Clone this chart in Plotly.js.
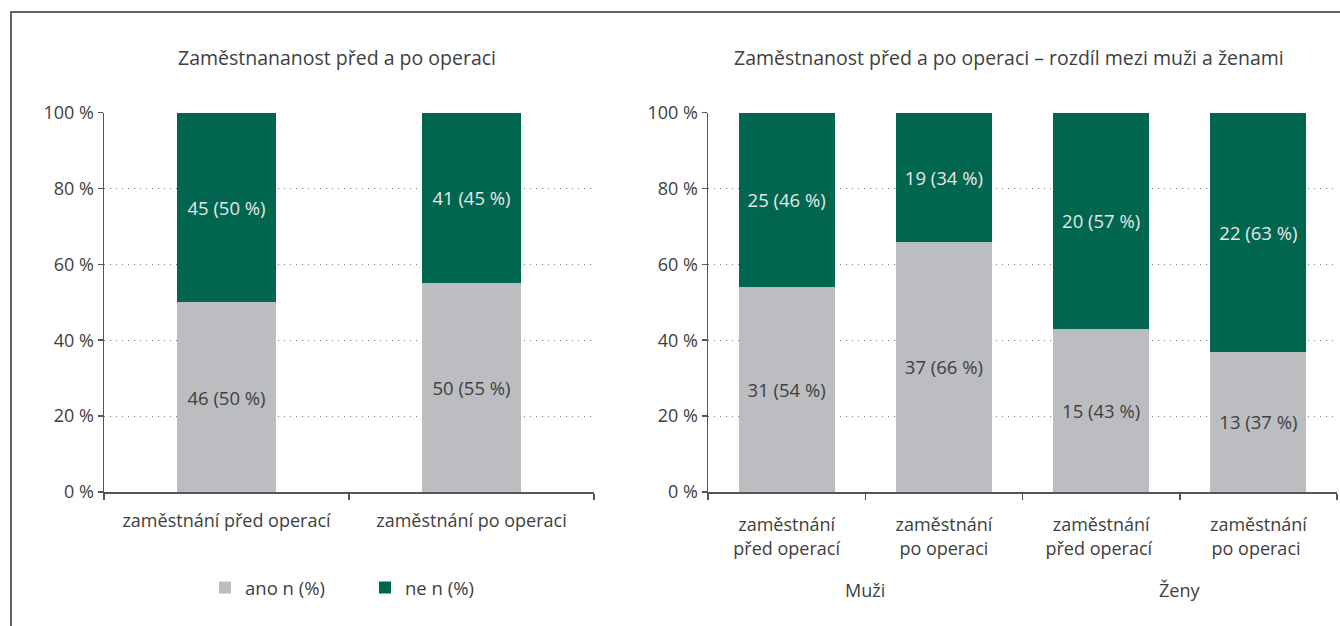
<!DOCTYPE html>
<html><head><meta charset="utf-8">
<script src="https://cdn.plot.ly/plotly-3.0.1.min.js"></script>
<style>
html,body{margin:0;padding:0;background:#fff;}
#wrap{position:relative;width:1340px;height:626px;overflow:hidden;}
#frame{position:absolute;left:10px;top:11px;width:1400px;height:700px;border-left:2px solid #666;border-top:2px solid #666;pointer-events:none;}
</style>
</head><body>
<div id="wrap"><div id="chart" style="width:1340px;height:626px;"></div><div id="frame"></div></div>
<script>
// Left chart
var catsLeft = ["zaměstnání před operací", "zaměstnání po operaci"];
var anoLeftN = [46, 50];
var anoLeftPct = [50, 55];
var neLeftN = [45, 41];
var neLeftPct = [50, 45];

// Right chart
var groupsRight = ["Muži", "Muži", "Ženy", "Ženy"];
var catsRight = ["zaměstnání<br>před operací", "zaměstnání<br>po operaci", "zaměstnání<br>před operací ", "zaměstnání<br>po operaci "];
var anoRightN = [31, 37, 15, 13];
var anoRightPct = [54, 66, 43, 37];
var neRightN = [25, 19, 20, 22];
var neRightPct = [46, 34, 57, 63];

var seriesNames = ["ano n (%)", "ne n (%)"];
var yTickVals = [0, 20, 40, 60, 80, 100];
var titleLeft = "Zaměstnananost před a po operaci";
var titleRight = "Zaměstnanost před a po operaci – rozdíl mezi muži a ženami";

var GRAY = "#bcbdc0", GREEN = "#00664f", TXT = "#404040", LIGHT = "#e8e8e8";
var FONT = "Open Sans, sans-serif";
var BARFS = 18.5, TICKFS = 18, TITLEFS = 19.5, LEGFS = 18.5;

function lab(n, p){ return n.map(function(v,i){ return v + " (" + p[i] + " %)"; }); }

var common = {type:"bar", textposition:"inside", insidetextanchor:"middle", constraintext:"none", textangle:0,
  hoverinfo:"skip", cliponaxis:false};

var traces = [
  Object.assign({}, common, {x: catsLeft, y: anoLeftPct, text: lab(anoLeftN, anoLeftPct), name: seriesNames[0], width:0.405,
    marker:{color:GRAY}, textfont:{color:TXT, size:BARFS, family:FONT}, xaxis:"x", yaxis:"y", legendgroup:"a"}),
  Object.assign({}, common, {x: catsLeft, y: neLeftPct, text: lab(neLeftN, neLeftPct), name: seriesNames[1], width:0.405,
    marker:{color:GREEN}, textfont:{color:LIGHT, size:BARFS, family:FONT}, xaxis:"x", yaxis:"y", legendgroup:"b"}),
  Object.assign({}, common, {x: catsRight, y: anoRightPct, text: lab(anoRightN, anoRightPct), name: seriesNames[0], width:0.61,
    marker:{color:GRAY}, textfont:{color:TXT, size:BARFS, family:FONT}, xaxis:"x2", yaxis:"y2", showlegend:false, legendgroup:"a"}),
  Object.assign({}, common, {x: catsRight, y: neRightPct, text: lab(neRightN, neRightPct), name: seriesNames[1], width:0.61,
    marker:{color:GREEN}, textfont:{color:LIGHT, size:BARFS, family:FONT}, xaxis:"x2", yaxis:"y2", showlegend:false, legendgroup:"b"})
];

var H = 626, W = 1340;
var yax = {range:[0,100], tickmode:"array", tickvals:yTickVals, ticktext:yTickVals.map(function(v){return v + " %";}),
  showline:true, linecolor:"#555", linewidth:1.5,
  ticks:"outside", ticklen:5, tickcolor:"#555", tickwidth:1.5, showgrid:true, gridcolor:"#777", griddash:"1px,5px", gridwidth:1.2,
  zeroline:false, tickfont:{size:TICKFS, color:TXT, family:FONT}, automargin:false, fixedrange:true,
  domain:[(H-492)/H, (H-112.5)/H]};

// group label annotations: centred over each group's categories (category index positions)
var groupAnn = [];
var seen = {};
groupsRight.forEach(function(g, i){ if(!seen[g]) seen[g] = []; seen[g].push(i); });
Object.keys(seen).forEach(function(g){
  var idx = seen[g];
  var c = (idx[0] + idx[idx.length-1]) / 2;
  groupAnn.push({text:g, xref:"x2", yref:"paper", x:c, y:(H-590)/H, showarrow:false, xanchor:"center", yanchor:"middle",
    font:{size:TICKFS, color:TXT, family:FONT}});
});

var layout = {
  width:W, height:H, margin:{l:0, r:0, t:0, b:0}, paper_bgcolor:"#fff", plot_bgcolor:"rgba(0,0,0,0)",
  font:{family:FONT, color:TXT, size:TICKFS},
  barmode:"stack",
  showlegend:true,
  legend:{orientation:"h", x:205/W, xanchor:"left", y:(H-588)/H, yanchor:"middle", font:{size:LEGFS, color:TXT, family:FONT},
    entrywidth:115, traceorder:"normal", itemclick:false},
  xaxis:{domain:[104/W, 594/W], type:"category", tickson:"boundaries", ticks:"outside", ticklen:6, tickcolor:"#555", tickwidth:1.5,
    showline:true, linecolor:"#555", linewidth:1.5, tickfont:{size:TICKFS, color:TXT, family:FONT}, automargin:false, anchor:"y",
    ticklabelstandoff:12},
  yaxis: Object.assign({}, yax, {anchor:"x"}),
  xaxis2:{domain:[708/W, 1337/W], type:"category", tickson:"boundaries", ticks:"outside", ticklen:6,
    tickcolor:"#555", tickwidth:1.5, showline:true, linecolor:"#555", linewidth:1.5, tickfont:{size:TICKFS, color:TXT, family:FONT},
    automargin:false, anchor:"y2", ticklabelstandoff:16},
  yaxis2: Object.assign({}, yax, {anchor:"x2"}),
  annotations:[
    {text:titleLeft, xref:"paper", yref:"paper", x:337/W, y:(H-58)/H, showarrow:false, xanchor:"center", yanchor:"middle",
      font:{size:TITLEFS, color:TXT, family:FONT}},
    {text:titleRight, xref:"paper", yref:"paper", x:1009/W, y:(H-58)/H, showarrow:false, xanchor:"center", yanchor:"middle",
      font:{size:TITLEFS, color:TXT, family:FONT}}
  ].concat(groupAnn)
};

Plotly.newPlot("chart", traces, layout, {staticPlot:true, displayModeBar:false});
</script>
</body></html>
